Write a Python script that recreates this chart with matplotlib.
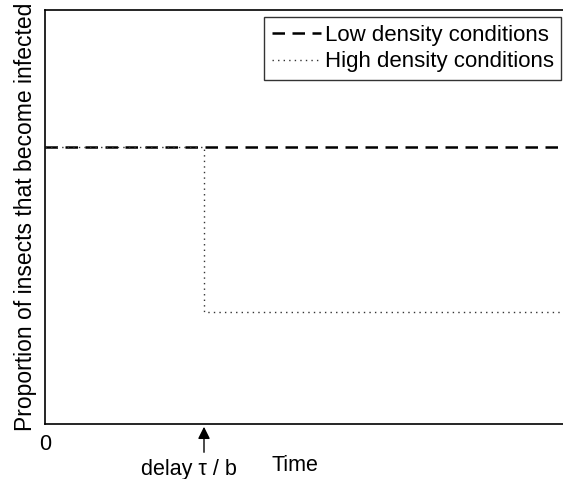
import matplotlib
matplotlib.use("Agg")
import matplotlib.pyplot as plt

plt.rcParams['font.family'] = ['Liberation Sans', 'DejaVu Sans']

# step model: constant infection in low density, drop after delay in high density
t_low = [0, 10]
p_low = [0.67, 0.67]
t_high = [0, 3, 3, 10]
p_high = [0.67, 0.67, 0.27, 0.27]
delay_t = 3

fig = plt.figure(figsize=(5.63, 4.79), dpi=100)
ax = fig.add_axes([45 / 563, 1 - 424 / 479, 530 / 563, 414 / 479])

ax.plot(t_low, p_low, color='black', lw=1.8, ls=(0, (5, 3)), label='Low density conditions')
ax.plot(t_high, p_high, color='#333333', lw=1.0, ls=(0, (1, 3)), label='High density conditions')

ax.set_xlim(0, 10)
ax.set_ylim(0, 1)
ax.set_xticks([0])
ax.set_xticklabels(['0'], fontsize=15.5)
ax.set_yticks([])
ax.tick_params(axis='x', length=0, pad=7)
for s in ax.spines.values():
    s.set_linewidth(1.2)

ax.set_ylabel('Proportion of insects that become infected', fontsize=16.5, labelpad=6)

ax.annotate('', xy=(delay_t, 0), xytext=(delay_t, -0.075),
            xycoords='data', annotation_clip=False,
            arrowprops=dict(arrowstyle='-|>', color='black', lw=1, mutation_scale=18))
ax.text(delay_t - 0.28, -0.11, 'delay τ / b', fontsize=15.5, ha='center', va='center')
ax.text(4.72, -0.1, 'Time', fontsize=15.5, ha='center', va='center')

leg = ax.legend(loc='upper left', bbox_to_anchor=(264 / 563, 1 - 17 / 479),
                bbox_transform=fig.transFigure, fontsize=16, frameon=True,
                fancybox=False, edgecolor='black', handlelength=2.2,
                handletextpad=0.18, borderpad=0.35, labelspacing=0.25, borderaxespad=0)
leg.get_frame().set_linewidth(1)

fig.savefig('out.png', dpi=100)
